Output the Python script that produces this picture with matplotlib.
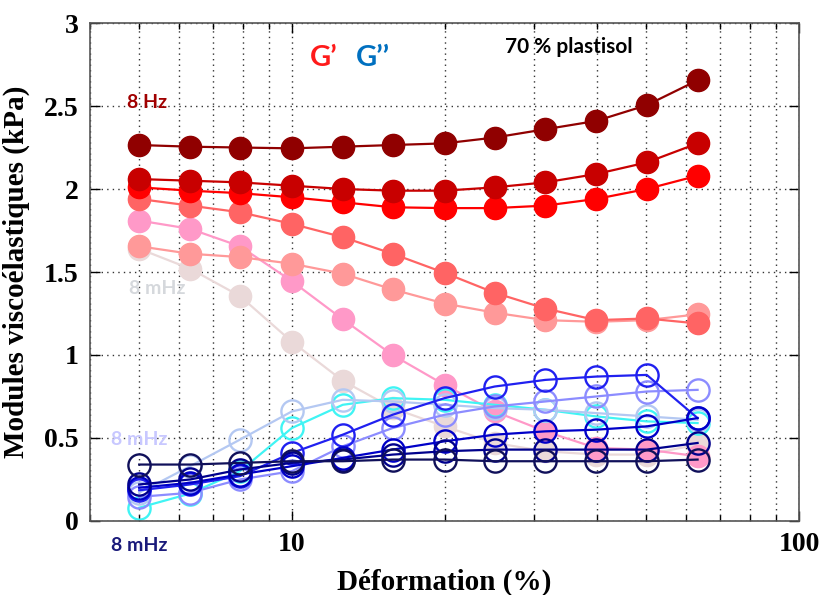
import matplotlib
matplotlib.use('Agg')
import matplotlib.pyplot as plt
from matplotlib.ticker import LogLocator, NullFormatter, FixedLocator, FixedFormatter

plt.rcParams['font.family'] = ['Liberation Serif', 'DejaVu Serif']
plt.rcParams['font.weight'] = 'bold'
plt.rcParams['axes.labelweight'] = 'bold'

# strain amplitudes (%)
strain = [5.0, 6.3, 7.9, 10.0, 12.6, 15.8, 20.0, 25.1, 31.6, 39.8, 50.1, 63.1]

# G' (storage modulus, kPa) from 8 Hz down to 8 mHz
g1_8hz = [2.265, 2.255, 2.25, 2.245, 2.255, 2.265, 2.275, 2.31, 2.36, 2.41, 2.505, 2.655]
g1_b = [2.06, 2.05, 2.04, 2.02, 2.00, 1.99, 1.99, 2.01, 2.04, 2.09, 2.16, 2.275]
g1_c = [2.01, 1.99, 1.975, 1.95, 1.92, 1.89, 1.885, 1.885, 1.90, 1.94, 2.00, 2.08]
g1_d = [1.94, 1.90, 1.86, 1.79, 1.71, 1.61, 1.495, 1.375, 1.28, 1.21, 1.22, 1.19]
g1_e = [1.655, 1.61, 1.59, 1.55, 1.49, 1.395, 1.31, 1.255, 1.21, 1.20, 1.21, 1.245]
g1_f = [1.81, 1.76, 1.655, 1.445, 1.215, 1.00, 0.82, 0.66, 0.54, 0.44, 0.43, 0.39]
g1_8mhz = [1.64, 1.52, 1.355, 1.08, 0.845, 0.68, 0.57, 0.47, 0.42, 0.40, 0.40, 0.46]

# G'' (loss modulus, kPa)
g2_a = [0.34, 0.34, 0.35, 0.36, 0.36, 0.37, 0.37, 0.36, 0.36, 0.36, 0.36, 0.37]
g2_b = [0.22, 0.25, 0.31, 0.35, 0.37, 0.40, 0.42, 0.43, 0.43, 0.43, 0.43, 0.47]
g2_c = [0.20, 0.23, 0.28, 0.33, 0.38, 0.43, 0.48, 0.52, 0.54, 0.55, 0.57, 0.62]
g2_d = [0.185, 0.22, 0.27, 0.41, 0.52, 0.64, 0.74, 0.81, 0.85, 0.87, 0.88, 0.62]
g2_e = [0.145, 0.17, 0.25, 0.30, 0.45, 0.56, 0.64, 0.69, 0.72, 0.75, 0.78, 0.79]
g2_f = [0.17, 0.33, 0.49, 0.66, 0.73, 0.72, 0.70, 0.68, 0.67, 0.65, 0.63, 0.61]
g2_g = [0.08, 0.165, 0.30, 0.56, 0.70, 0.74, 0.73, 0.70, 0.67, 0.63, 0.60, 0.59]

gp_series = [g1_8mhz, g1_f, g1_e, g1_d, g1_c, g1_b, g1_8hz]
gp_colors = ['#EAD9D9', '#FF99C8', '#FF9999', '#FF6464', '#FF0000', '#C80000', '#900000']
gpp_series = [g2_g, g2_f, g2_e, g2_d, g2_c, g2_b, g2_a]
gpp_colors = ['#40F4F4', '#B4C8F2', '#8C8CFF', '#2020F0', '#0000C8', '#00008C', '#10105A']

fig = plt.figure(figsize=(8.2, 5.95), dpi=100)
ax = fig.add_axes([0.1098, 0.1244, 0.8646, 0.8369])

for vals, col in zip(gp_series, gp_colors):
    ax.plot(strain, vals, '-o', color=col, lw=1.6, ms=16, mfc=col, mec=col)

for vals, col in zip(gpp_series, gpp_colors):
    ax.plot(strain, vals, '-o', color=col, lw=1.6, ms=16, mfc='none', mec=col, mew=1.7)

ax.set_xscale('log')
ax.set_xlim(4, 100)
ax.set_ylim(0, 3)
ax.xaxis.set_major_locator(FixedLocator([10, 100]))
ax.xaxis.set_major_formatter(FixedFormatter(['10', '100']))
ax.xaxis.set_minor_locator(LogLocator(base=10, subs=range(2, 10)))
ax.xaxis.set_minor_formatter(NullFormatter())
ax.set_yticks([0, 0.5, 1, 1.5, 2, 2.5, 3])
ax.set_yticklabels(['0', '0.5', '1', '1.5', '2', '2.5', '3'])

ax.grid(True, which='both', axis='x', linestyle=(0, (1, 3)), color='#333333', lw=1.0)
ax.grid(True, which='major', axis='y', linestyle=(0, (1, 3)), color='#333333', lw=1.0)
ax.set_axisbelow(True)

ax.tick_params(which='both', direction='in', top=True, right=True, labelsize=20, width=1)
ax.tick_params(which='major', length=7, pad=8)
ax.tick_params(which='minor', length=4)
for s in ax.spines.values():
    s.set_color('#555555')
    s.set_linewidth(1.2)

ax.set_xlabel('Déformation (%)', fontsize=21, labelpad=8)
ax.set_ylabel('Modules viscoélastiques (kPa)', fontsize=21, labelpad=10)

sans = ['Lato', 'DejaVu Sans']
ax.text(4.73, 2.52, '8 Hz', color='#A00000', fontsize=14, family=sans, weight='bold', va='center')
ax.text(4.77, 1.40, '8 mHz', color='#D5D8DC', fontsize=14, family=sans, weight='bold', va='center')
ax.text(4.40, 0.49, '8 mHz', color='#C8C8FF', fontsize=14, family=sans, weight='bold', va='center')
ax.text(4.40, -0.145, '8 mHz', color='#1A1A7A', fontsize=14, family=sans, weight='bold',
        va='center', clip_on=False)
ax.text(10.85, 2.79, 'G’', color='#FF1A1A', fontsize=21, family=sans, weight='bold', va='center')
ax.text(13.4, 2.79, 'G’’', color='#0070C0', fontsize=21, family=sans, weight='bold', va='center')
ax.text(26.3, 2.855, '70 % plastisol', color='black', fontsize=15, family=sans, weight='bold', va='center')

fig.savefig('out.png', dpi=100)
